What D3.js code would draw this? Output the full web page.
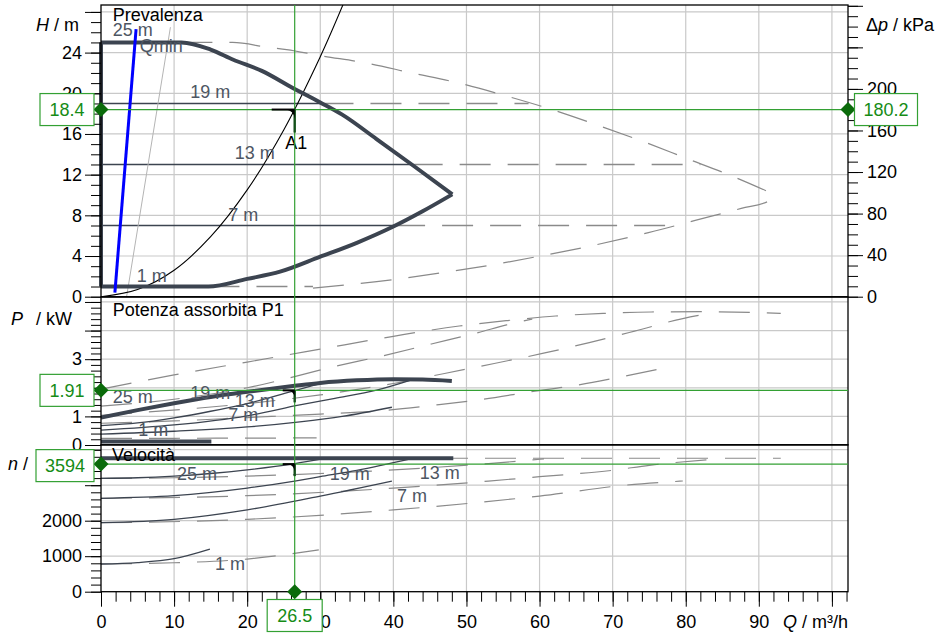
<!DOCTYPE html>
<html>
<head>
<meta charset="utf-8">
<script src="https://cdn.jsdelivr.net/npm/d3@7"></script>
<style>
  body { margin: 0; background: #fff; }
  svg { display: block; font-family: "Liberation Sans", Arial, sans-serif; }
</style>
</head>
<body>
<div id="chart"></div>
<script>
    // ---- Data ----
    // Q in m3/h, H in m, P in kW, n in 1/min
    var levelNames = ["19 m", "13 m", "7 m", "1 m"];
    var levelH = [19, 13, 7, 1];
    var levelSolidEnd = [30.3, 42.5, 40.1, 14.7];
    var levelDashEnd = [58.5, 82, 78, 29];

    // Prevalenza: envelope of the pump (thick) and twin operation (dashed)
    var hMaxCurve = [[0, 25], [11, 25], [15, 24.3], [18.1, 23.3], [22, 22.2], [26.3, 20.5], [30, 19.1],
      [33, 17.9], [37.7, 15.5], [42.7, 12.9], [48.06, 10.06]];
    var hMinCurve = [[0, 1], [14.7, 1], [20, 1.75], [24.5, 2.46], [30, 3.93], [35, 5.3], [40, 6.9],
      [44, 8.4], [48.06, 10.06]];
    var hMaxTwin = [[11, 25], [18, 25], [23, 24.5], [25.4, 24.3], [30, 23.7], [36.1, 23.0], [42.5, 22.0],
      [49, 21.0], [55.4, 19.75], [61.7, 18.4], [67.8, 16.9], [74, 15.3], [80.1, 13.6], [86.2, 11.9], [92.3, 10.0]];
    var hMinTwin = [[29, 0.85], [40.2, 1.7], [46.7, 2.36], [53.2, 3.09], [59.6, 3.93], [66.1, 4.85],
      [74.9, 6.3], [81.3, 7.5], [87.6, 8.68], [91.6, 9.49], [92.3, 10.0]];
    var systemCurve = [[0, 0], [5, 0.7], [10, 2.6], [15, 5.9], [20, 10.5], [25, 16.4], [30, 23.6], [33.1, 28.7]];
    var qMinLine = [[3.5, 0], [9.5, 26.5]];
    var blueLine = [[1.9, 0.4], [4.8, 26.3]];

    // Potenza assorbita P1
    var pMaxCurve = [[0, 0.96], [5, 1.22], [10, 1.46], [15, 1.68], [20, 1.86], [26.5, 2.07], [30, 2.17],
      [35, 2.26], [40, 2.3], [44, 2.29], [48, 2.24]];
    var pMinCurve = [[0, 0.12], [15.1, 0.12]];
    var pLevels = [
      [[0, 0.68], [5, 0.77], [10, 0.95], [15, 1.18], [20, 1.45], [26.5, 1.9], [30.3, 2.17]],
      [[0, 0.52], [10, 0.7], [20, 1.02], [27.2, 1.4], [32, 1.63], [37.7, 1.92], [42.5, 2.28]],
      [[0, 0.38], [10, 0.48], [20, 0.63], [27.2, 0.81], [33, 1.0], [39.8, 1.32]]
    ];
    var pMaxTwin = [[0, 1.95], [10, 2.45], [20, 2.9], [30, 3.35], [40, 3.8], [49, 4.16], [55.6, 4.35],
      [62.2, 4.51], [68.7, 4.6], [75.3, 4.65], [82, 4.66], [93, 4.6]];
    var pTwins = [
      [[0, 1.36], [10, 1.6], [20, 2.0], [32.2, 2.76], [38.6, 3.12], [45.2, 3.53], [51.6, 3.93], [55.5, 4.2], [59, 4.4]],
      [[0, 1.04], [20, 1.45], [30, 1.75], [40, 2.15], [47, 2.5], [53.8, 2.85], [60.4, 3.2], [66.8, 3.58], [73, 3.98], [79.6, 4.42], [84, 4.63]],
      [[0, 0.76], [10, 0.84], [20, 0.96], [30, 1.08], [39.3, 1.22], [45.9, 1.4], [52.3, 1.6], [58.8, 1.86], [65.3, 2.1], [71.7, 2.41], [78, 2.74]],
      [[0, 0.23], [10, 0.235], [20, 0.24], [29.5, 0.25]]
    ];

    // Velocita
    var nMaxCurve = [[0, 3760], [48.2, 3760]];
    var nLevels = [
      [[0, 3194], [5, 3210], [10, 3256], [15, 3330], [20, 3432], [26.5, 3608], [30.3, 3740]],
      [[0, 2631], [10, 2705], [20, 2918], [26.5, 3115], [30, 3240], [35, 3420], [42.5, 3751]],
      [[0, 1944], [10, 2038], [20, 2305], [30, 2695], [39.8, 3118]],
      [[0, 780], [5, 820], [10, 930], [14.9, 1200]]
    ];
    var nMaxTwin = [[0, 3760], [93, 3760]];
    var nTwins = [
      [[0, 3194], [10, 3210], [20, 3256], [30, 3330], [40, 3432], [53, 3608], [60.6, 3740]],
      [[0, 2631], [20, 2705], [40, 2918], [53, 3115], [60, 3240], [70, 3420], [75, 3560], [85, 3751]],
      [[0, 1944], [20, 2038], [40, 2305], [60, 2695], [72, 3006], [79.6, 3118]],
      [[0, 780], [10, 815], [20, 920], [29.8, 1180]]
    ];

    // Operating point A1
    var dutyQ = 26.5, dutyH = 18.4, dutyDp = 180.2, dutyP = 1.91, dutyN = 3594;

    // Tick values (labels hidden behind the value boxes are left out)
    var qMajor = d3.range(0, 101, 10);
    var qLabeled = d3.range(0, 91, 10);
    var hMajor = d3.range(0, 29, 4);
    var hLabeled = [0, 4, 8, 12, 16, 20, 24];
    var dpMajor = d3.range(0, 281, 40);
    var dpLabeled = [0, 40, 80, 120, 160, 200];
    var pMajor = [0, 1, 2, 3, 4, 5];
    var pLabeled = [0, 1, 3];
    var nMajor = [0, 1000, 2000, 3000, 4000];
    var nLabeled = [0, 1000, 2000];

    // ---- Scales ----
    var x = d3.scaleLinear().domain([0, 102.2]).range([101, 848]);
    var yH = d3.scaleLinear().domain([0, 28.68]).range([296.7, 5]);
    var yDp = d3.scaleLinear().domain([0, 28.68 * 9.79]).range([296.7, 5]);
    var yP = d3.scaleLinear().domain([0, 5.17]).range([445, 297.1]);
    var yN = d3.scaleLinear().domain([0, 4141]).range([591.7, 444.7]);

    var dark = "#3c4450";
    var dashGray = "#8a8a8a";
    var labelGray = "#4d5663";
    var green = "#33a033";
    var greenText = "#168c16";
    var greenDark = "#0b6b0b";

    var svg = d3.select("#chart").append("svg")
      .attr("width", 940)
      .attr("height", 634);

    var panels = [
      { id: "top", y: yH, grid: d3.range(4, 29, 4) },
      { id: "mid", y: yP, grid: [1, 2, 3, 4, 5] },
      { id: "bot", y: yN, grid: [1000, 2000, 3000, 4000] }
    ];

    // Clip paths + grid
    var defs = svg.append("defs");
    panels.forEach(function (p) {
      var r = p.y.range();
      defs.append("clipPath").attr("id", "clip-" + p.id)
        .append("rect")
        .attr("x", x(0)).attr("y", r[1])
        .attr("width", x(102.2) - x(0)).attr("height", r[0] - r[1]);

      var g = svg.append("g").attr("class", "grid");
      g.selectAll(".v").data(d3.range(10, 101, 10)).enter().append("line")
        .attr("x1", function (d) { return x(d); }).attr("x2", function (d) { return x(d); })
        .attr("y1", r[0]).attr("y2", r[1])
        .attr("stroke", "#c9c9c9").attr("stroke-width", 1.2);
      g.selectAll(".h").data(p.grid).enter().append("line")
        .attr("x1", x(0)).attr("x2", x(102.2))
        .attr("y1", function (d) { return p.y(d); }).attr("y2", function (d) { return p.y(d); })
        .attr("stroke", "#c9c9c9").attr("stroke-width", 1.2);
    });

    function lineFor(yScale, curve) {
      return d3.line()
        .x(function (d) { return x(d[0]); })
        .y(function (d) { return yScale(d[1]); })
        .curve(curve || d3.curveMonotoneX);
    }

    function drawPath(layer, data, yScale, stroke, width, dash, curve) {
      layer.append("path")
        .datum(data)
        .attr("d", lineFor(yScale, curve))
        .attr("fill", "none")
        .attr("stroke", stroke)
        .attr("stroke-width", width)
        .attr("stroke-dasharray", dash || null)
        .attr("stroke-linejoin", "round");
    }

    var dashPattern = "31,17";

    // ---- Top panel: Prevalenza ----
    var topLayer = svg.append("g").attr("clip-path", "url(#clip-top)");
    drawPath(topLayer, hMaxTwin, yH, dashGray, 1.2, dashPattern);
    drawPath(topLayer, hMinTwin, yH, dashGray, 1.2, dashPattern);
    levelH.forEach(function (h, i) {
      drawPath(topLayer, [[levelSolidEnd[i], h], [levelDashEnd[i], h]], yH, dashGray, 1.4, dashPattern, d3.curveLinear);
      if (i < 3) drawPath(topLayer, [[0, h], [levelSolidEnd[i], h]], yH, dark, 1.4, null, d3.curveLinear);
    });
    drawPath(topLayer, qMinLine, yH, "#b4b4b4", 1, null, d3.curveLinear);
    drawPath(topLayer, systemCurve, yH, "#000", 1.1, null, d3.curveCatmullRom);
    drawPath(topLayer, hMaxCurve, yH, dark, 4);
    drawPath(topLayer, hMinCurve, yH, dark, 4);
    drawPath(svg, [[0, 1], [0, 25]], yH, dark, 4, null, d3.curveLinear);
    drawPath(topLayer, blueLine, yH, "#0000ff", 3, null, d3.curveLinear);

    // ---- Middle panel: Potenza ----
    var midLayer = svg.append("g").attr("clip-path", "url(#clip-mid)");
    drawPath(midLayer, pMaxTwin, yP, dashGray, 1.2, dashPattern);
    pTwins.forEach(function (d) { drawPath(midLayer, d, yP, dashGray, 1.2, dashPattern); });
    pLevels.forEach(function (d) { drawPath(midLayer, d, yP, dark, 1.3); });
    drawPath(midLayer, pMaxCurve, yP, dark, 4);
    drawPath(midLayer, pMinCurve, yP, dark, 4, null, d3.curveLinear);

    // ---- Bottom panel: Velocita ----
    var botLayer = svg.append("g").attr("clip-path", "url(#clip-bot)");
    drawPath(botLayer, nMaxTwin, yN, dashGray, 1.2, dashPattern, d3.curveLinear);
    nTwins.forEach(function (d) { drawPath(botLayer, d, yN, dashGray, 1.2, dashPattern); });
    nLevels.forEach(function (d) { drawPath(botLayer, d, yN, dark, 1.3); });
    drawPath(botLayer, nMaxCurve, yN, dark, 4, null, d3.curveLinear);

    // ---- Frames ----
    panels.forEach(function (p) {
      var r = p.y.range();
      svg.append("rect")
        .attr("x", x(0)).attr("y", r[1])
        .attr("width", x(102.2) - x(0)).attr("height", r[0] - r[1])
        .attr("fill", "none").attr("stroke", "#000").attr("stroke-width", 1.3);
    });

    // ---- Axes ----
    function styleAxis(g) {
      g.attr("font-size", 18).attr("font-family", null);
      g.select(".domain").remove();
      g.selectAll("line").attr("stroke", "#000");
      g.selectAll("text").attr("fill", "#000");
    }

    function addAxis(axisFn, scale, translate, minor, major, labeled, majorLen, minorLen, pad) {
      svg.append("g").attr("transform", translate)
        .call(axisFn(scale).tickValues(minor).tickSize(minorLen).tickFormat(""))
        .call(styleAxis);
      svg.append("g").attr("transform", translate)
        .call(axisFn(scale).tickValues(major).tickSize(majorLen).tickPadding(pad)
          .tickFormat(function (d) { return labeled.indexOf(d) >= 0 ? d : ""; }))
        .call(styleAxis);
    }

    addAxis(d3.axisLeft, yH, "translate(101,0)", d3.range(0, 28.5, 1), hMajor, hLabeled, 16, 10, 3);
    addAxis(d3.axisRight, yDp, "translate(848,0)", d3.range(0, 281, 10), dpMajor, dpLabeled, 15, 10, 4);
    addAxis(d3.axisLeft, yP, "translate(101,0)", d3.range(0, 25.5, 1).map(function (d) { return d / 5; }), pMajor, pLabeled, 16, 10, 3);
    addAxis(d3.axisLeft, yN, "translate(101,0)", d3.range(0, 4001, 200), nMajor, nLabeled, 16, 10, 3);
    addAxis(d3.axisBottom, x, "translate(0,591.7)", d3.range(0, 103, 2), qMajor, qLabeled, 15, 10, 9);

    // Axis titles
    function title(xp, yp, parts, anchor) {
      var t = svg.append("text").attr("x", xp).attr("y", yp)
        .attr("font-size", 18).attr("text-anchor", anchor || "start");
      parts.forEach(function (p) {
        t.append("tspan").attr("font-style", p[1] ? "italic" : null).attr("dx", p[2] || null).text(p[0]);
      });
    }
    title(36, 31, [["H", true], [" / m", false]]);
    title(866, 31, [["Δ", false], ["p", true], [" / kPa", false]]);
    title(11, 325, [["P", true], ["/ kW", false, 13]]);
    title(8, 470, [["n", true], [" /", false]]);
    title(848, 628, [["Q", true], [" / m³/h", false]], "end");

    // ---- Curve labels (placed in data units) ----
    var topLabels = [["Prevalenza", 1.6, 27.7, "#000"], ["25 m", 1.6, 26.3, labelGray], ["Qmin", 5.3, 24.7, labelGray],
      ["19 m", 12.2, 20.2, labelGray], ["13 m", 18.3, 14.2, labelGray], ["7 m", 17.4, 8.1, labelGray],
      ["1 m", 4.9, 2.1, labelGray], ["A1", 25.2, 15.1, "#000"]];
    var midLabels = [["Potenza assorbita P1", 1.6, 4.72, "#000"], ["25 m", 1.6, 1.68, labelGray], ["19 m", 12.2, 1.82, labelGray],
      ["13 m", 18.3, 1.55, labelGray], ["7 m", 17.4, 1.05, labelGray], ["1 m", 5.1, 0.52, labelGray]];
    var botLabels = [["Velocità", 1.5, 3851, "#000"], ["25 m", 10.4, 3335, labelGray], ["19 m", 31.3, 3335, labelGray],
      ["13 m", 43.6, 3358, labelGray], ["7 m", 40.5, 2696, labelGray], ["1 m", 15.6, 780, labelGray]];

    function drawLabels(list, yScale) {
      svg.append("g").selectAll("text").data(list).enter().append("text")
        .attr("x", function (d) { return x(d[1]); })
        .attr("y", function (d) { return yScale(d[2]); })
        .attr("dy", "0.35em")
        .attr("font-size", 18)
        .attr("fill", function (d) { return d[3]; })
        .text(function (d) { return d[0]; });
    }
    drawLabels(topLabels, yH);
    drawLabels(midLabels, yP);
    drawLabels(botLabels, yN);

    // ---- Operating point: cross lines, markers, boxes ----
    var gx = x(dutyQ);
    svg.append("line").attr("x1", gx).attr("x2", gx).attr("y1", yH.range()[1]).attr("y2", yN.range()[0])
      .attr("stroke", green).attr("stroke-width", 1.2);
    [[yH, dutyH], [yP, dutyP], [yN, dutyN]].forEach(function (d) {
      svg.append("line").attr("x1", x(0)).attr("x2", x(102.2))
        .attr("y1", d[0](d[1])).attr("y2", d[0](d[1]))
        .attr("stroke", green).attr("stroke-width", 1.2);
    });

    function pointMarker(cx, cy, len) {
      svg.append("line").attr("x1", cx - len).attr("x2", cx).attr("y1", cy).attr("y2", cy)
        .attr("stroke", "#000").attr("stroke-width", 2);
      svg.append("line").attr("x1", cx).attr("x2", cx).attr("y1", cy).attr("y2", cy + len)
        .attr("stroke", "#14501a").attr("stroke-width", 2.4);
      var s = Math.min(9, len * 0.6);
      svg.append("path")
        .attr("d", "M" + (cx - s) + "," + cy + "L" + cx + "," + cy + "L" + cx + "," + (cy + s) +
          "Q" + (cx - 1) + "," + (cy + 1) + " " + (cx - s) + "," + cy + "Z")
        .attr("fill", "#000");
    }
    pointMarker(gx, yH(dutyH), 23);
    pointMarker(gx, yP(dutyP), 12);
    pointMarker(gx, yN(dutyN), 12);

    function diamond(cx, cy) {
      var r = 7.5;
      svg.append("path")
        .attr("d", "M" + cx + "," + (cy - r) + "L" + (cx + r) + "," + cy + "L" + cx + "," + (cy + r) + "L" + (cx - r) + "," + cy + "Z")
        .attr("fill", greenDark);
    }
    diamond(x(0), yH(dutyH));
    diamond(x(102.2), yH(dutyH));
    diamond(x(0), yP(dutyP));
    diamond(x(0), yN(dutyN));
    diamond(gx, yN(0));

    function valueBox(cx, cy, w, txt) {
      svg.append("rect").attr("x", cx - w / 2).attr("y", cy - 16).attr("width", w).attr("height", 32)
        .attr("fill", "#fff").attr("stroke", green).attr("stroke-width", 1.2);
      svg.append("text").attr("x", cx).attr("y", cy).attr("dy", "0.36em")
        .attr("text-anchor", "middle").attr("font-size", 18).attr("fill", greenText)
        .text(txt);
    }
    valueBox(67, yH(dutyH), 54, dutyH.toFixed(1));
    valueBox(886, yH(dutyH), 63, dutyDp.toFixed(1));
    valueBox(67, yP(dutyP), 54, dutyP.toFixed(2));
    valueBox(65, yN(dutyN) + 1.5, 58, String(dutyN));
    valueBox(gx, 615.5, 55, dutyQ.toFixed(1));
</script>
</body>
</html>
